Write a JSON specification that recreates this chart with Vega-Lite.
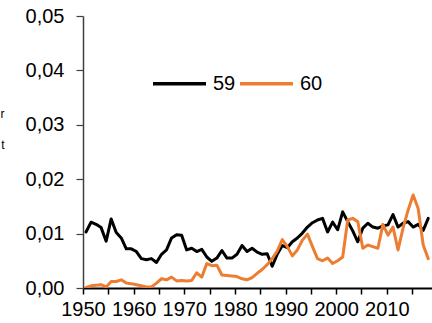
{
  "$schema": "https://vega.github.io/schema/vega-lite/v6.json",
  "width": 349,
  "height": 272,
  "autosize": "none",
  "padding": {"left": 83, "top": 16, "right": 0, "bottom": 35},
  "background": "white",
  "config": {
    "view": {"stroke": null},
    "font": "Liberation Sans"
  },
  "data": {
    "values": [
      {"year": 1950, "59": 0.0103, "60": 0.0001},
      {"year": 1951, "59": 0.0121, "60": 0.0004},
      {"year": 1952, "59": 0.0117, "60": 0.0005},
      {"year": 1953, "59": 0.0111, "60": 0.0006},
      {"year": 1954, "59": 0.0086, "60": 0.0002},
      {"year": 1955, "59": 0.0127, "60": 0.0012},
      {"year": 1956, "59": 0.0102, "60": 0.0012},
      {"year": 1957, "59": 0.0092, "60": 0.0015},
      {"year": 1958, "59": 0.0072, "60": 0.0009},
      {"year": 1959, "59": 0.0072, "60": 0.0008},
      {"year": 1960, "59": 0.0067, "60": 0.0006},
      {"year": 1961, "59": 0.0054, "60": 0.0004},
      {"year": 1962, "59": 0.0052, "60": 0.0002},
      {"year": 1963, "59": 0.0054, "60": 0.0002},
      {"year": 1964, "59": 0.0047, "60": 0.0009},
      {"year": 1965, "59": 0.0062, "60": 0.0017},
      {"year": 1966, "59": 0.0070, "60": 0.0015},
      {"year": 1967, "59": 0.0092, "60": 0.0020},
      {"year": 1968, "59": 0.0098, "60": 0.0013},
      {"year": 1969, "59": 0.0097, "60": 0.0014},
      {"year": 1970, "59": 0.0070, "60": 0.0013},
      {"year": 1971, "59": 0.0073, "60": 0.0014},
      {"year": 1972, "59": 0.0067, "60": 0.0028},
      {"year": 1973, "59": 0.0071, "60": 0.0020},
      {"year": 1974, "59": 0.0057, "60": 0.0045},
      {"year": 1975, "59": 0.0049, "60": 0.0041},
      {"year": 1976, "59": 0.0055, "60": 0.0042},
      {"year": 1977, "59": 0.0069, "60": 0.0024},
      {"year": 1978, "59": 0.0055, "60": 0.0023},
      {"year": 1979, "59": 0.0055, "60": 0.0022},
      {"year": 1980, "59": 0.0062, "60": 0.0021},
      {"year": 1981, "59": 0.0078, "60": 0.0017},
      {"year": 1982, "59": 0.0067, "60": 0.0015},
      {"year": 1983, "59": 0.0073, "60": 0.0019},
      {"year": 1984, "59": 0.0066, "60": 0.0027},
      {"year": 1985, "59": 0.0062, "60": 0.0034},
      {"year": 1986, "59": 0.0063, "60": 0.0043},
      {"year": 1987, "59": 0.0040, "60": 0.0054},
      {"year": 1988, "59": 0.0062, "60": 0.0068},
      {"year": 1989, "59": 0.0078, "60": 0.0089},
      {"year": 1990, "59": 0.0074, "60": 0.0076},
      {"year": 1991, "59": 0.0085, "60": 0.0059},
      {"year": 1992, "59": 0.0092, "60": 0.0070},
      {"year": 1993, "59": 0.0101, "60": 0.0088},
      {"year": 1994, "59": 0.0112, "60": 0.0099},
      {"year": 1995, "59": 0.0120, "60": 0.0076},
      {"year": 1996, "59": 0.0125, "60": 0.0054},
      {"year": 1997, "59": 0.0128, "60": 0.0050},
      {"year": 1998, "59": 0.0103, "60": 0.0055},
      {"year": 1999, "59": 0.0121, "60": 0.0045},
      {"year": 2000, "59": 0.0107, "60": 0.0050},
      {"year": 2001, "59": 0.0140, "60": 0.0057},
      {"year": 2002, "59": 0.0122, "60": 0.0125},
      {"year": 2003, "59": 0.0105, "60": 0.0128},
      {"year": 2004, "59": 0.0085, "60": 0.0122},
      {"year": 2005, "59": 0.0110, "60": 0.0073},
      {"year": 2006, "59": 0.0119, "60": 0.0079},
      {"year": 2007, "59": 0.0112, "60": 0.0076},
      {"year": 2008, "59": 0.0110, "60": 0.0073},
      {"year": 2009, "59": 0.0114, "60": 0.0117},
      {"year": 2010, "59": 0.0116, "60": 0.0097},
      {"year": 2011, "59": 0.0135, "60": 0.0112},
      {"year": 2012, "59": 0.0112, "60": 0.0070},
      {"year": 2013, "59": 0.0119, "60": 0.0110},
      {"year": 2014, "59": 0.0122, "60": 0.0143},
      {"year": 2015, "59": 0.0112, "60": 0.0171},
      {"year": 2016, "59": 0.0117, "60": 0.0146},
      {"year": 2017, "59": 0.0106, "60": 0.0079},
      {"year": 2018, "59": 0.0128, "60": 0.0054}
    ]
  },
  "transform": [{"fold": ["59", "60"], "as": ["series", "value"]}],
  "mark": {"type": "line", "strokeWidth": 3, "strokeJoin": "round", "strokeCap": "round", "clip": true},
  "encoding": {
    "x": {
      "field": "year",
      "type": "quantitative",
      "scale": {"domain": [1949.4, 2018.75], "nice": false, "zero": false},
      "axis": {
        "title": null,
        "grid": false,
        "values": [1949.4, 1954.43, 1959.46, 1964.49, 1969.52, 1974.55, 1979.58, 1984.61, 1989.64, 1994.67, 1999.7, 2004.73, 2009.76, 2014.79],
        "labelExpr": "(round((datum.value - 1949.4) / 5.03) % 2 == 0) ? format(1950 + 5 * round((datum.value - 1949.4) / 5.03), 'd') : ''",
        "labelFontSize": 20,
        "labelColor": "#000000",
        "labelFont": "Liberation Sans",
        "labelPadding": 5,
        "labelFlush": false,
        "labelOverlap": false,
        "tickSize": 6,
        "tickWidth": 1.5,
        "tickColor": "#000000",
        "domainColor": "#000000",
        "domainWidth": 2
      }
    },
    "y": {
      "field": "value",
      "type": "quantitative",
      "scale": {"domain": [0, 0.05], "nice": false},
      "axis": {
        "title": ["r", "t"],
        "titleAngle": 0,
        "titleAlign": "right",
        "titleBaseline": "alphabetic",
        "titleX": -79,
        "titleY": 101,
        "titleFontSize": 12,
        "titleFontWeight": "normal",
        "titleLineHeight": 31,
        "titleColor": "#000000",
        "grid": false,
        "values": [0, 0.01, 0.02, 0.03, 0.04, 0.05],
        "labelExpr": "replace(format(datum.value, '.2f'), '.', ',')",
        "labelFontSize": 20,
        "labelColor": "#000000",
        "labelFont": "Liberation Sans",
        "labelPadding": 12,
        "labelFlush": false,
        "tickSize": 7,
        "tickWidth": 1.2,
        "tickColor": "#404040",
        "domainColor": "#404040",
        "domainWidth": 1.5
      }
    },
    "color": {
      "field": "series",
      "type": "nominal",
      "scale": {"domain": ["59", "60"], "range": ["#000000", "#ED7D31"]},
      "legend": {
        "title": null,
        "orient": "none",
        "direction": "horizontal",
        "legendX": 68,
        "legendY": 39,
        "symbolType": "stroke",
        "symbolSize": 2809,
        "symbolStrokeWidth": 3.5,
        "labelFontSize": 20,
        "labelFont": "Liberation Sans",
        "labelColor": "#000000",
        "labelOffset": 5,
        "columnPadding": -3
      }
    }
  }
}
